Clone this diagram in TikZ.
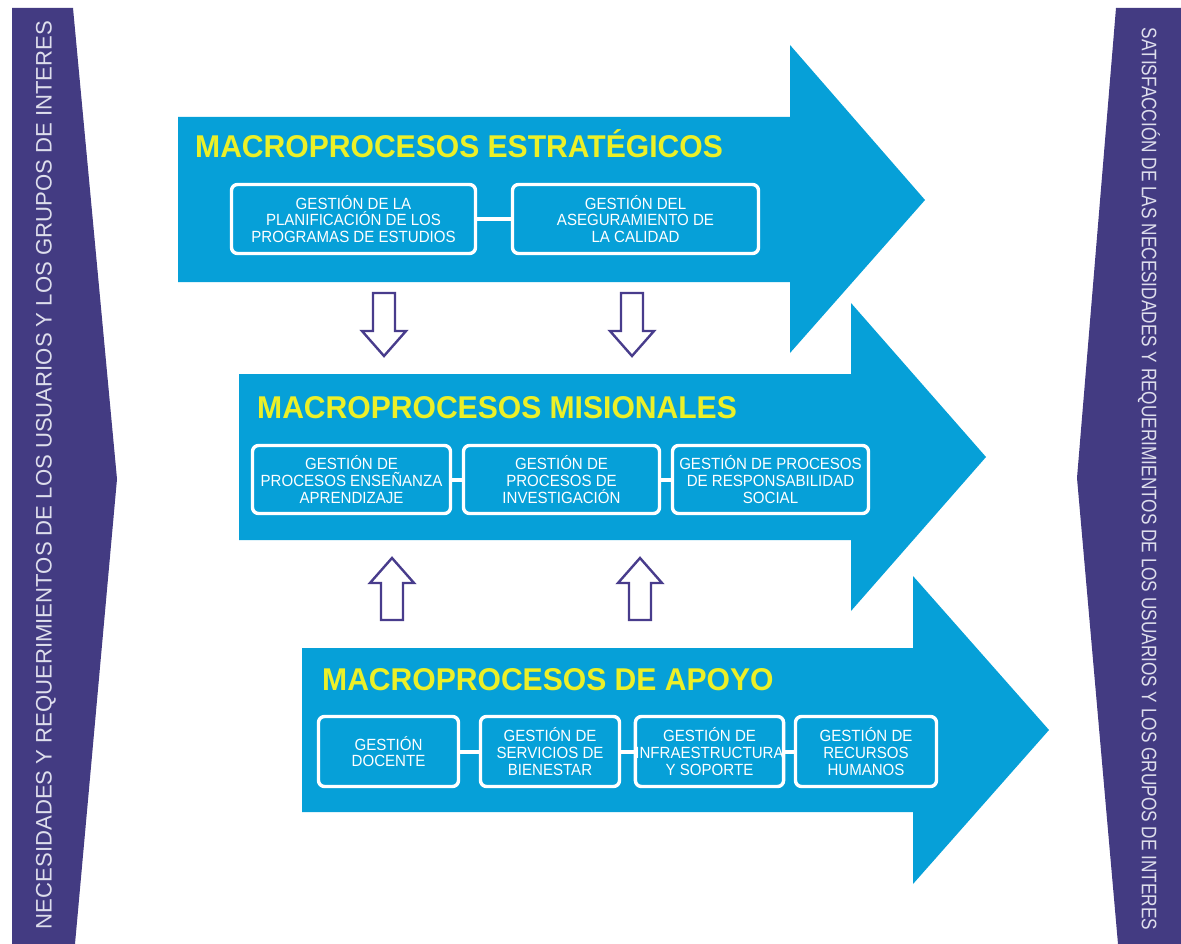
\documentclass[tikz,border=0pt]{standalone}
\usepackage{fontspec}
\setmainfont{Liberation Sans}
\newfontfamily\narrowfont[FakeStretch=0.93]{Liberation Sans}
\newfontfamily\titlefont[FakeStretch=0.955]{Liberation Sans}
\usepackage{graphicx}
\definecolor{arrowblue}{RGB}{6,160,216}
\definecolor{barpurple}{RGB}{67,59,130}
\definecolor{linepurple}{RGB}{72,60,140}
\definecolor{titleyellow}{RGB}{236,240,40}
\definecolor{sidetext}{RGB}{222,222,236}
\tikzset{
  bigarrow/.style={fill=arrowblue, draw=none},
  sidebar/.style={fill=barpurple, draw=none},
  procbox/.style={draw=white, line width=3.4pt, rounded corners=6pt, fill=arrowblue,
    inner sep=0pt, align=center, text=white, font=\narrowfont\fontsize{16.2}{16.6}\selectfont},
  boxlink/.style={draw=white, line width=4pt},
  titletext/.style={anchor=base west, text=titleyellow, inner sep=0pt,
    font=\titlefont\fontsize{31.5}{31.5}\selectfont\bfseries},
  flowarrow/.style={draw=linepurple, line width=2.4pt, fill=white, line join=miter},
  sidelabel/.style={text=sidetext, inner sep=0pt}
}
\begin{document}
\begin{tikzpicture}[x=1pt,y=-1pt]
\useasboundingbox (0,0) rectangle (1181,944);
\fill[white] (0,0) rectangle (1181,944);

% side bars
\fill[sidebar] (12,8) -- (73,8) -- (117,479) -- (75,944) -- (12,944) -- cycle;
\fill[sidebar] (1181,8) -- (1116,8) -- (1077,478) -- (1118,944) -- (1181,944) -- cycle;
\node[sidelabel, rotate=90] (lefttext) at (46,475)
  {\resizebox{908pt}{\height}{\fontsize{22.4}{22.4}\selectfont NECESIDADES Y REQUERIMIENTOS DE LOS USUARIOS Y LOS GRUPOS DE INTERES}};
\node[sidelabel, rotate=-90] (righttext) at (1149,479)
  {\resizebox{902pt}{\height}{\fontsize{21}{21}\selectfont SATISFACCIÓN DE LAS NECESIDADES Y REQUERIMIENTOS DE LOS USUARIOS Y LOS GRUPOS DE INTERES}};

% big arrows
\fill[bigarrow] (178,117) -- (790,117) -- (790,45) -- (925,200) -- (790,353) -- (790,282) -- (178,282) -- cycle;
\fill[bigarrow] (239,374) -- (851,374) -- (851,303) -- (986,457) -- (851,611) -- (851,540) -- (239,540) -- cycle;
\fill[bigarrow] (302,648) -- (913,648) -- (913,576) -- (1049,730) -- (913,884) -- (913,812) -- (302,812) -- cycle;

% titles
\node[titletext] (t1) at (195,158) {MACROPROCESOS ESTRATÉGICOS};
\node[titletext] (t2) at (257,418) {MACROPROCESOS MISIONALES};
\node[titletext] (t3) at (322,690) {MACROPROCESOS DE APOYO};

% row 1 boxes
\node[procbox, minimum width=244pt, minimum height=69pt] (b11) at (353.5,219)
  {GESTIÓN DE LA\\PLANIFICACIÓN DE LOS\\PROGRAMAS DE ESTUDIOS};
\node[procbox, minimum width=246pt, minimum height=69pt] (b12) at (635.5,219)
  {GESTIÓN DEL\\ASEGURAMIENTO DE\\LA CALIDAD};
\draw[boxlink] (b11) -- (b12);

% row 2 boxes
\node[procbox, minimum width=198pt, minimum height=68pt] (b21) at (351.5,479.5)
  {GESTIÓN DE\\PROCESOS ENSEÑANZA\\APRENDIZAJE};
\node[procbox, minimum width=196pt, minimum height=68pt] (b22) at (561.5,479.5)
  {GESTIÓN DE\\PROCESOS DE\\INVESTIGACIÓN};
\node[procbox, minimum width=196pt, minimum height=68pt] (b23) at (770.5,479.5)
  {GESTIÓN DE PROCESOS\\DE RESPONSABILIDAD\\SOCIAL};
\draw[boxlink] (b21) -- (b22);
\draw[boxlink] (b22) -- (b23);

% row 3 boxes
\node[procbox, minimum width=140pt, minimum height=70pt] (b31) at (388.5,751.5)
  {GESTIÓN\\DOCENTE};
\node[procbox, minimum width=139pt, minimum height=70pt] (b32) at (550,751.5)
  {GESTIÓN DE\\SERVICIOS DE\\BIENESTAR};
\node[procbox, minimum width=140pt, minimum height=70pt] (b33) at (709.5,751.5)
  {GESTIÓN DE\\INFRAESTRUCTURA\\Y SOPORTE};
\node[procbox, minimum width=141pt, minimum height=70pt] (b34) at (866,751.5)
  {GESTIÓN DE\\RECURSOS\\HUMANOS};
\draw[boxlink] (b31) -- (b32);
\draw[boxlink] (b32) -- (b33);
\draw[boxlink] (b33) -- (b34);

% down arrows (strategic -> missional)
\foreach \cx in {384,632}{
  \draw[flowarrow] (\cx-11,293) -- (\cx+11,293) -- (\cx+11,331) -- (\cx+22,331)
    -- (\cx,356) -- (\cx-22,331) -- (\cx-11,331) -- cycle;
}
% up arrows (support -> missional)
\foreach \cx in {392,640}{
  \draw[flowarrow] (\cx-11,620) -- (\cx+11,620) -- (\cx+11,583) -- (\cx+22,583)
    -- (\cx,558) -- (\cx-22,583) -- (\cx-11,583) -- cycle;
}
\end{tikzpicture}
\end{document}
